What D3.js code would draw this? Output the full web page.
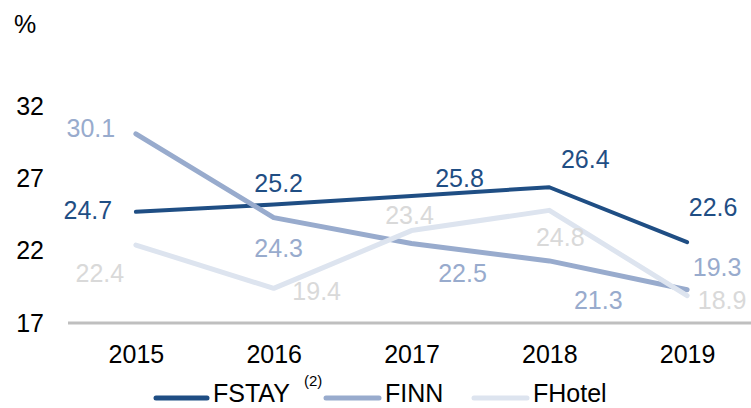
<!DOCTYPE html>
<html>
<head>
<meta charset="utf-8">
<script src="https://cdn.jsdelivr.net/npm/d3@7"></script>
<style>
  html, body { margin: 0; padding: 0; background: #fff; }
  svg { display: block; font-family: "Liberation Sans", Arial, sans-serif; }
</style>
</head>
<body>
<svg id="chart" width="751" height="408"></svg>
<script>
// Yearly rates (%) per brand
const years = ["2015", "2016", "2017", "2018", "2019"];
const fstay = [24.7, 25.2, 25.8, 26.4, 22.6];
const finn = [30.1, 24.3, 22.5, 21.3, 19.3];
const fhotel = [22.4, 19.4, 23.4, 24.8, 18.9];
const seriesNames = ["FSTAY", "FINN", "FHotel"];
const yTicks = [17, 22, 27, 32];

// Where each value label sits relative to its point (px)
const labelOffsets = [
  [[-48, -2], [5, -22], [48, -18], [36, -28], [26, -35]],
  [[-45, -6], [5, 30], [51, 29], [49, 39], [30, -23]],
  [[-36, 28], [43, 3], [-2, -16], [11, 27], [35, 4]]
];
const lineColors = ["#1f4e84", "#98abcd", "#dde4ef"];
const labelColors = ["#1f4e84", "#98abcd", "#d9d9d9"];
const lineWidths = [4, 5, 5];
const fontSize = 25;

const series = [fstay, finn, fhotel].map((vals, i) => ({
  name: seriesNames[i],
  values: vals.map((v, j) => ({ year: years[j], value: v })),
  color: lineColors[i],
  labelColor: labelColors[i],
  width: lineWidths[i],
  offsets: labelOffsets[i]
}));

const svg = d3.select("#chart");

const x = d3.scalePoint().domain(years).range([67, 756]).padding(0.5);
const y = d3.scaleLinear().domain([17, 32]).range([323, 106.4]);

// Unit label
svg.append("text")
  .attr("x", 14).attr("y", 33)
  .attr("font-size", fontSize).attr("fill", "#000")
  .text("%");

// Y axis: labels only
const yAxis = svg.append("g")
  .attr("transform", "translate(46,0)")
  .call(d3.axisLeft(y).tickValues(yTicks).tickSize(0).tickPadding(2));
yAxis.select(".domain").remove();
yAxis.selectAll("text")
  .attr("font-size", fontSize)
  .attr("font-family", "Liberation Sans, Arial, sans-serif")
  .attr("fill", "#000");

// X axis: baseline and year labels
const xAxis = svg.append("g")
  .attr("transform", `translate(0,${y(17)})`)
  .call(d3.axisBottom(x).tickSize(0).tickPadding(22));
xAxis.select(".domain").remove();
xAxis.selectAll("text")
  .attr("font-size", fontSize)
  .attr("font-family", "Liberation Sans, Arial, sans-serif")
  .attr("fill", "#000");
svg.append("line")
  .attr("x1", 68).attr("x2", 751)
  .attr("y1", y(17)).attr("y2", y(17))
  .attr("stroke", "#bfbfbf").attr("stroke-width", 3);

// Lines
const line = d3.line().x(d => x(d.year)).y(d => y(d.value));
svg.append("g").selectAll("path")
  .data(series)
  .join("path")
  .attr("d", d => line(d.values))
  .attr("fill", "none")
  .attr("stroke", d => d.color)
  .attr("stroke-width", d => d.width)
  .attr("stroke-linecap", "round")
  .attr("stroke-linejoin", "round");

// Value labels
series.forEach(s => {
  svg.append("g").selectAll("text")
    .data(s.values)
    .join("text")
    .attr("x", (d, i) => x(d.year) + s.offsets[i][0])
    .attr("y", (d, i) => y(d.value) + s.offsets[i][1])
    .attr("dy", "0.36em")
    .attr("text-anchor", "middle")
    .attr("font-size", fontSize)
    .attr("fill", s.labelColor)
    .text(d => d3.format(".1f")(d.value));
});

// Legend
const legendItems = [
  { name: "FSTAY", sup: "(2)", x1: 156, x2: 207, tx: 213 },
  { name: "FINN", sup: null, x1: 326, x2: 379, tx: 385 },
  { name: "FHotel", sup: null, x1: 474, x2: 527, tx: 533 }
];
const legend = svg.append("g");
legendItems.forEach((item, i) => {
  legend.append("line")
    .attr("x1", item.x1).attr("x2", item.x2)
    .attr("y1", 398).attr("y2", 398)
    .attr("stroke", series[i].color)
    .attr("stroke-width", 5)
    .attr("stroke-linecap", "round");
  legend.append("text")
    .attr("x", item.tx).attr("y", 402)
    .attr("font-size", 25).attr("fill", "#000")
    .text(item.name);
  if (item.sup) {
    legend.append("text")
      .attr("x", 304).attr("y", 386)
      .attr("font-size", 15).attr("fill", "#000")
      .text(item.sup);
  }
});
</script>
</body>
</html>
